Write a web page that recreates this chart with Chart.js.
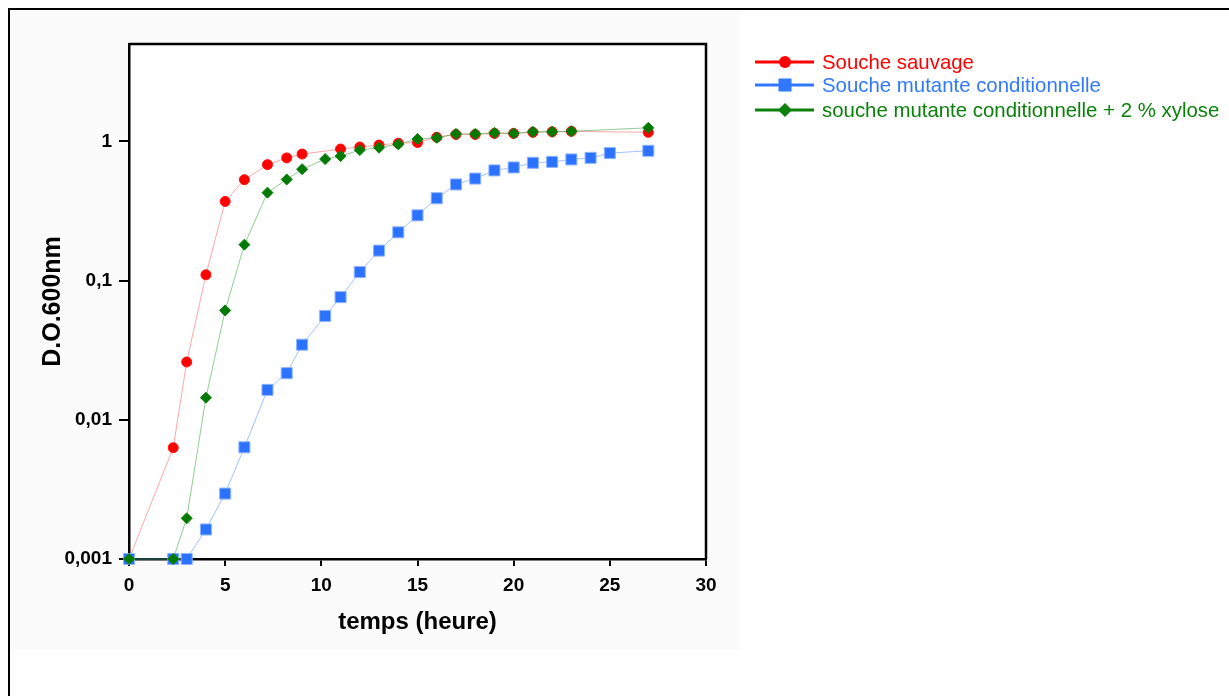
<!DOCTYPE html>
<html>
<head>
<meta charset="utf-8">
<script src="https://cdn.jsdelivr.net/npm/chart.js@4/dist/chart.umd.min.js"></script>
<style>
  body { margin: 0; background: #fff; }
  #wrap { position: relative; width: 1229px; height: 696px; }
</style>
</head>
<body>
<div id="wrap"><canvas id="growthChart" width="1229" height="696"></canvas></div>
<script>
// temps (heure) / D.O. 600nm
const hoursWild = [0, 2.3, 3, 4, 5, 6, 7.2, 8.2, 9, 11, 12, 13, 14, 15, 16, 17, 18, 19, 20, 21, 22, 23, 27];
const odWild = [0.001, 0.0063, 0.026, 0.11, 0.37, 0.53, 0.68, 0.76, 0.81, 0.88, 0.91, 0.94, 0.97, 0.98,
  1.07, 1.12, 1.12, 1.14, 1.14, 1.16, 1.17, 1.18, 1.16];

const hoursMutant = [0, 2.3, 3, 4, 5, 6, 7.2, 8.2, 9, 10.2, 11, 12, 13, 14, 15, 16, 17, 18, 19, 20, 21, 22, 23, 24, 25, 27];
const odMutant = [0.001, 0.001, 0.001, 0.00163, 0.00295, 0.00634, 0.0164, 0.0216, 0.0346, 0.0557, 0.076,
  0.115, 0.164, 0.222, 0.294, 0.39, 0.49, 0.54, 0.618, 0.649, 0.701, 0.712, 0.741, 0.761, 0.823, 0.855];

const hoursXylose = [0, 2.3, 3, 4, 5, 6, 7.2, 8.2, 9, 10.2, 11, 12, 13, 14, 15, 16, 17, 18, 19, 20, 21, 22, 23, 27];
const odXylose = [0.001, 0.001, 0.00196, 0.0144, 0.061, 0.181, 0.428, 0.532, 0.631, 0.745, 0.783, 0.865,
  0.90, 0.951, 1.04, 1.06, 1.13, 1.13, 1.15, 1.14, 1.17, 1.17, 1.18, 1.25];

const seriesNames = ['Souche sauvage', 'Souche mutante conditionnelle', 'souche mutante conditionnelle + 2 % xylose'];
const yTickValues = [0.001, 0.01, 0.1, 1];
const yTickLabels = ['0,001', '0,01', '0,1', '1'];

const FONT = '"Liberation Sans", Arial, sans-serif';

function toPoints(xs, ys) {
  return xs.map((x, i) => ({ x: x, y: ys[i] }));
}

// page background + outer frame
const backdrop = {
  id: 'backdrop',
  beforeDraw(chart) {
    const c = chart.ctx;
    c.save();
    c.fillStyle = '#ffffff';
    c.fillRect(0, 0, chart.width, chart.height);
    c.fillStyle = '#fbfbfb';
    c.fillRect(10, 10, 730, 640);
    c.fillStyle = '#ffffff';
    c.fillRect(748, 48, 412, 72);
    const a = chart.chartArea;
    c.fillRect(a.left, a.top, a.right - a.left, a.bottom - a.top);
    c.strokeStyle = '#000';
    c.lineWidth = 2;
    c.beginPath();
    c.moveTo(9, chart.height);
    c.lineTo(9, 9);
    c.lineTo(chart.width, 9);
    c.stroke();
    c.restore();
  }
};

// top and right sides of the plot box
const plotBox = {
  id: 'plotBox',
  beforeDatasetsDraw(chart) {
    const a = chart.chartArea;
    const c = chart.ctx;
    c.save();
    c.strokeStyle = '#000';
    c.lineWidth = 2.5;
    c.beginPath();
    c.moveTo(a.left, a.top);
    c.lineTo(a.right, a.top);
    c.lineTo(a.right, a.bottom);
    c.stroke();
    c.restore();
  }
};

const legendColors = ['#ff0000', '#2f78ff', '#0b800b'];

function marker(c, style, x, y, r) {
  c.beginPath();
  if (style === 'circle') {
    c.arc(x, y, r, 0, Math.PI * 2);
  } else if (style === 'rect') {
    c.rect(x - r, y - r, r * 2, r * 2);
  } else {
    c.moveTo(x - r, y);
    c.lineTo(x, y - r);
    c.lineTo(x + r, y);
    c.lineTo(x, y + r);
    c.closePath();
  }
  c.fill();
}

const sideLegend = {
  id: 'sideLegend',
  afterDraw(chart) {
    const c = chart.ctx;
    const rows = [62, 85, 110];
    const styles = ['circle', 'rect', 'diamond'];
    const sizes = [6, 6.5, 7];
    c.save();
    seriesNames.forEach((name, i) => {
      const y = rows[i];
      c.strokeStyle = legendColors[i];
      c.fillStyle = legendColors[i];
      c.lineWidth = 3;
      c.beginPath();
      c.moveTo(755, y);
      c.lineTo(814, y);
      c.stroke();
      marker(c, styles[i], 785, y, sizes[i]);
      c.font = '20.4px ' + FONT;
      c.textBaseline = 'middle';
      c.textAlign = 'left';
      c.fillText(name, 822, y + 1);
    });
    c.restore();
  }
};

const ctx = document.getElementById('growthChart').getContext('2d');

const chart = new Chart(ctx, {
  type: 'line',
  data: {
    datasets: [{
      label: seriesNames[0],
      data: toPoints(hoursWild, odWild),
      borderColor: 'rgba(255, 80, 80, 0.5)',
      borderWidth: 1,
      pointStyle: 'circle',
      pointRadius: 5,
      pointBackgroundColor: '#ff0000',
      pointBorderColor: '#ff1010',
      pointBorderWidth: 1,
      order: 2
    }, {
      label: seriesNames[1],
      data: toPoints(hoursMutant, odMutant),
      borderColor: 'rgba(90, 140, 255, 0.55)',
      borderWidth: 1,
      pointStyle: 'rect',
      pointRadius: 7.8,
      pointBackgroundColor: '#2a72ff',
      pointBorderColor: '#8db3ff',
      pointBorderWidth: 1,
      order: 1
    }, {
      label: seriesNames[2],
      data: toPoints(hoursXylose, odXylose),
      borderColor: 'rgba(40, 150, 40, 0.5)',
      borderWidth: 1,
      pointStyle: 'rectRot',
      pointRadius: 5.5,
      pointBackgroundColor: '#007a00',
      pointBorderColor: '#0a7f0a',
      pointBorderWidth: 1,
      order: 0
    }]
  },
  options: {
    responsive: false,
    animation: false,
    clip: false,
    layout: { padding: { top: 44, right: 523, bottom: 0, left: 0 } },
    plugins: {
      legend: { display: false },
      tooltip: { enabled: false }
    },
    elements: { line: { tension: 0 } },
    scales: {
      x: {
        type: 'linear',
        min: 0,
        max: 30,
        afterFit(axis) { axis.height = 137; },
        ticks: {
          stepSize: 5,
          color: '#000',
          padding: 8,
          font: { family: FONT, size: 19, weight: 'bold' }
        },
        grid: { drawOnChartArea: false, drawTicks: true, tickLength: 7, color: '#000', lineWidth: 2 },
        border: { display: true, color: '#000', width: 2.5 },
        title: {
          display: true,
          text: 'temps (heure)',
          color: '#000',
          font: { family: FONT, size: 24, weight: 'bold', lineHeight: 1.2 },
          padding: { top: 0, bottom: 59 }
        }
      },
      y: {
        type: 'logarithmic',
        min: 0.001,
        max: 5,
        afterFit(axis) { axis.width = 129; },
        afterBuildTicks(axis) {
          axis.ticks = yTickValues.map(v => ({ value: v }));
        },
        ticks: {
          color: '#000',
          padding: 7,
          font: { family: FONT, size: 19, weight: 'bold' },
          callback(value) {
            const i = yTickValues.indexOf(value);
            return i >= 0 ? yTickLabels[i] : '';
          }
        },
        grid: { drawOnChartArea: false, drawTicks: true, tickLength: 10, color: '#000', lineWidth: 2 },
        border: { display: true, color: '#000', width: 2.5 },
        title: {
          display: true,
          text: 'D.O.600nm',
          color: '#000',
          font: { family: FONT, size: 25, weight: 'bold', lineHeight: 1.2 },
          padding: { top: 38, bottom: 0 }
        }
      }
    }
  },
  plugins: [backdrop, plotBox, sideLegend]
});
</script>
</body>
</html>
